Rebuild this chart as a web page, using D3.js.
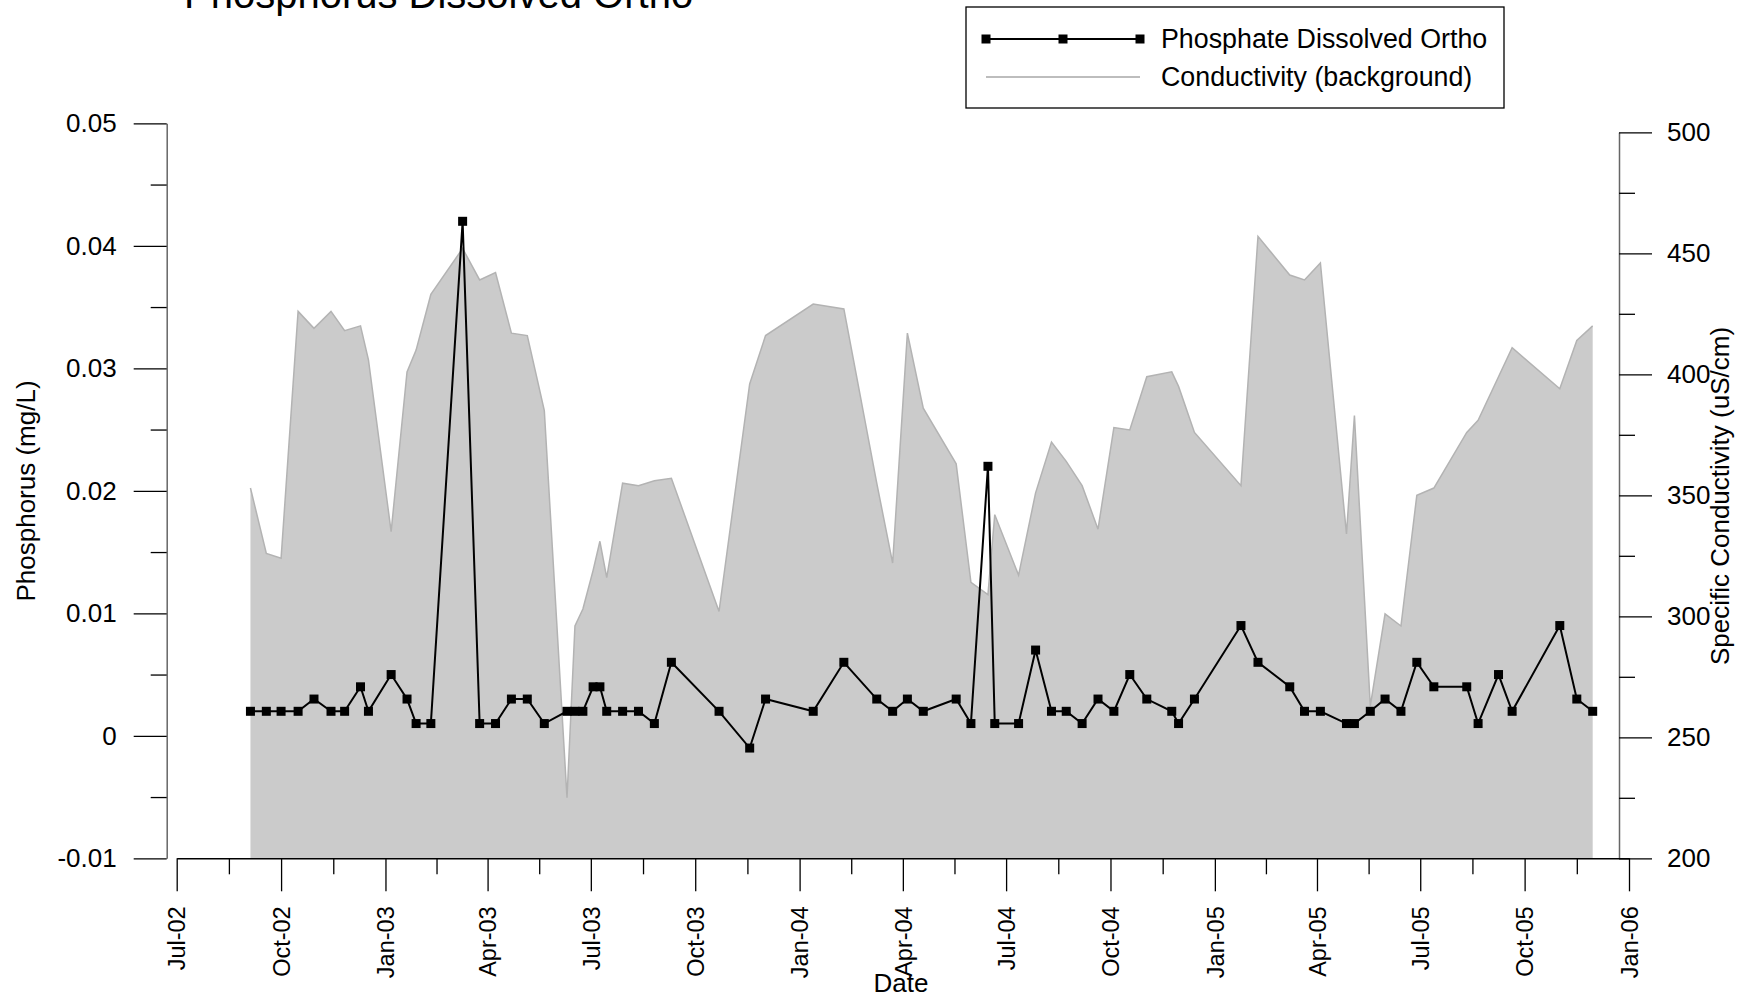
<!DOCTYPE html>
<meta charset="utf-8">
<style>
body { margin: 0; background: #fff; }
text { font-family: "Liberation Sans", Arial, sans-serif; fill: #000; }
.axis .domain { stroke: #666; stroke-width: 1.5; }
.axis line { stroke: #000; stroke-width: 1.3; }
.xaxis .domain { stroke: #000; }
</style>
<body>
<script src="https://cdn.jsdelivr.net/npm/d3@7"></script>
<script>

// sample dates (shared by both series)
var dates = [
  "2002-09-04","2002-09-18","2002-10-01","2002-10-16","2002-10-30","2002-11-14","2002-11-26","2002-12-10","2002-12-17",
  "2003-01-06","2003-01-20","2003-01-28","2003-02-10","2003-03-10","2003-03-25","2003-04-08","2003-04-22","2003-05-06","2003-05-21",
  "2003-06-10","2003-06-17","2003-06-24","2003-07-03","2003-07-09","2003-07-15","2003-07-29","2003-08-12","2003-08-26","2003-09-10",
  "2003-10-22","2003-11-18","2003-12-02",
  "2004-01-13","2004-02-09","2004-03-09","2004-03-23","2004-04-05","2004-04-19","2004-05-18","2004-05-31","2004-06-15","2004-06-21",
  "2004-07-12","2004-07-27","2004-08-10","2004-08-23","2004-09-06","2004-09-20","2004-10-04","2004-10-18","2004-11-02","2004-11-24","2004-11-30","2004-12-14",
  "2005-01-24","2005-02-08","2005-03-08","2005-03-21","2005-04-04","2005-04-27","2005-05-04","2005-05-18","2005-05-31","2005-06-14",
  "2005-06-28","2005-07-13","2005-08-11","2005-08-21","2005-09-08","2005-09-20","2005-11-01","2005-11-16","2005-11-30"
];

// Phosphate Dissolved Ortho (mg/L)
var phosphate = [
  .002,.002,.002,.002,.003,.002,.002,.004,.002,
  .005,.003,.001,.001,.042,.001,.001,.003,.003,.001,
  .002,.002,.002,.004,.004,.002,.002,.002,.001,.006,
  .002,-.001,.003,
  .002,.006,.003,.002,.003,.002,.003,.001,.022,.001,
  .001,.007,.002,.002,.001,.003,.002,.005,.003,.002,.001,.003,
  .009,.006,.004,.002,.002,.001,.001,.002,.003,.002,
  .006,.004,.004,.001,.005,.002,.009,.003,.002
];

// Specific conductivity (uS/cm)
var conductivity = [
  353,326,324,426,419,426,418,420,406,
  335,401,410,433,452,439,442,417,416,385,
  225,296,303,319,331,316,355,354,356,357,
  302,396,416,
  429,427,355,322,417,386,363,314,309,342,
  317,351,372,364,354,336,378,377,399,401,395,376,
  354,457,441,439,446,334,383,263,301,296,
  350,353,376,381,399,411,394,414,420
];

var leftTicks = [-0.01, 0, 0.01, 0.02, 0.03, 0.04, 0.05];
var rightTicks = [200, 250, 300, 350, 400, 450, 500];

var parse = d3.timeParse("%Y-%m-%d");
var data = dates.map(function(d, i) {
  return { date: parse(d), p: phosphate[i], c: conductivity[i] };
});

var W = 1749, H = 999;
var svg = d3.select("body").append("svg")
    .attr("width", W).attr("height", H);

// scales
var x = d3.scaleTime()
    .domain([new Date(2002, 6, 1), new Date(2006, 0, 1)])
    .range([176.7, 1629]);
var yL = d3.scaleLinear().domain([-0.01, 0.05]).range([858.3, 123.3]);
var yR = d3.scaleLinear().domain([200, 500]).range([858.3, 132.3]);

// conductivity background area
var area = d3.area()
    .x(function(d) { return x(d.date); })
    .y0(yR(200))
    .y1(function(d) { return yR(d.c); });
var topLine = d3.line()
    .x(function(d) { return x(d.date); })
    .y(function(d) { return yR(d.c); });

svg.append("path").datum(data)
    .attr("d", area)
    .attr("fill", "#cbcbcb");
svg.append("path").datum(data)
    .attr("d", topLine)
    .attr("fill", "none")
    .attr("stroke", "#b3b3b3")
    .attr("stroke-width", 1.5);

// phosphate line + square markers
var pLine = d3.line()
    .x(function(d) { return x(d.date); })
    .y(function(d) { return yL(d.p); });
svg.append("path").datum(data)
    .attr("d", pLine)
    .attr("fill", "none")
    .attr("stroke", "#000")
    .attr("stroke-width", 2);
var ms = 9;
svg.selectAll(".mk").data(data).enter().append("rect")
    .attr("class", "mk")
    .attr("x", function(d) { return x(d.date) - ms / 2; })
    .attr("y", function(d) { return yL(d.p) - ms / 2; })
    .attr("width", ms).attr("height", ms)
    .attr("fill", "#000");

// left axis
var gL = svg.append("g").attr("class", "axis")
    .attr("transform", "translate(166.7,0)")
    .call(d3.axisLeft(yL).tickValues(leftTicks).tickSize(33).tickSizeOuter(0)
      .tickPadding(17).tickFormat(function(d) { return String(+d.toFixed(2)); }));
gL.selectAll("text").style("font-size", "26px");
svg.append("g").attr("class", "axis")
    .attr("transform", "translate(166.7,0)")
    .call(d3.axisLeft(yL).tickValues(d3.range(-0.005, 0.05, 0.01)).tickSize(16).tickFormat(""))
    .select(".domain").remove();

// right axis
var gR = svg.append("g").attr("class", "axis")
    .attr("transform", "translate(1619,0)")
    .call(d3.axisRight(yR).tickValues(rightTicks).tickSize(33).tickSizeOuter(0).tickPadding(15));
gR.selectAll("text").style("font-size", "26px");
svg.append("g").attr("class", "axis")
    .attr("transform", "translate(1619,0)")
    .call(d3.axisRight(yR).tickValues(d3.range(225, 500, 50)).tickSize(16).tickFormat(""))
    .select(".domain").remove();

// bottom axis
var majors = x.ticks(d3.timeMonth.every(3));
var minors = d3.pairs(majors).map(function(p) { return new Date((+p[0] + +p[1]) / 2); });
var gX = svg.append("g").attr("class", "axis xaxis")
    .attr("transform", "translate(0,858.3)")
    .call(d3.axisBottom(x).tickValues(majors).tickSize(33).tickSizeOuter(0)
      .tickFormat(d3.timeFormat("%b-%y")));
gX.selectAll("text")
    .style("font-size", "23.5px")
    .attr("transform", "rotate(-90)")
    .attr("text-anchor", "end")
    .attr("x", -48).attr("y", 0).attr("dy", "0.35em");
svg.append("g").attr("class", "axis")
    .attr("transform", "translate(0,858.3)")
    .call(d3.axisBottom(x).tickValues(minors).tickSize(16).tickFormat(""))
    .select(".domain").remove();

// titles (main title sits partly above the top edge, as in the original)
svg.append("text").attr("x", 184).attr("y", 8)
    .style("font-size", "40px").text("Phosphorus Dissolved Ortho");
svg.append("text")
    .attr("transform", "translate(35,491) rotate(-90)")
    .attr("text-anchor", "middle").style("font-size", "26px")
    .text("Phosphorus (mg/L)");
svg.append("text")
    .attr("transform", "translate(1729,496) rotate(-90)")
    .attr("text-anchor", "middle").style("font-size", "26px")
    .text("Specific Conductivity (uS/cm)");
svg.append("text").attr("x", 901).attr("y", 992)
    .attr("text-anchor", "middle").style("font-size", "26px")
    .text("Date");

// legend
var lg = svg.append("g");
lg.append("rect").attr("x", 966).attr("y", 7).attr("width", 538).attr("height", 101)
    .attr("fill", "#fff").attr("stroke", "#000").attr("stroke-width", 1.3);
lg.append("line").attr("x1", 986).attr("x2", 1140).attr("y1", 39).attr("y2", 39)
    .attr("stroke", "#000").attr("stroke-width", 2);
[986, 1063, 1140].forEach(function(px) {
  lg.append("rect").attr("x", px - ms / 2).attr("y", 39 - ms / 2)
      .attr("width", ms).attr("height", ms).attr("fill", "#000");
});
lg.append("line").attr("x1", 986).attr("x2", 1140).attr("y1", 77).attr("y2", 77)
    .attr("stroke", "#bdbdbd").attr("stroke-width", 2);
lg.append("text").attr("x", 1161).attr("y", 39).attr("dy", "0.35em")
    .style("font-size", "26.8px").text("Phosphate Dissolved Ortho");
lg.append("text").attr("x", 1161).attr("y", 77).attr("dy", "0.35em")
    .style("font-size", "26.8px").text("Conductivity (background)");

</script>
</body>
